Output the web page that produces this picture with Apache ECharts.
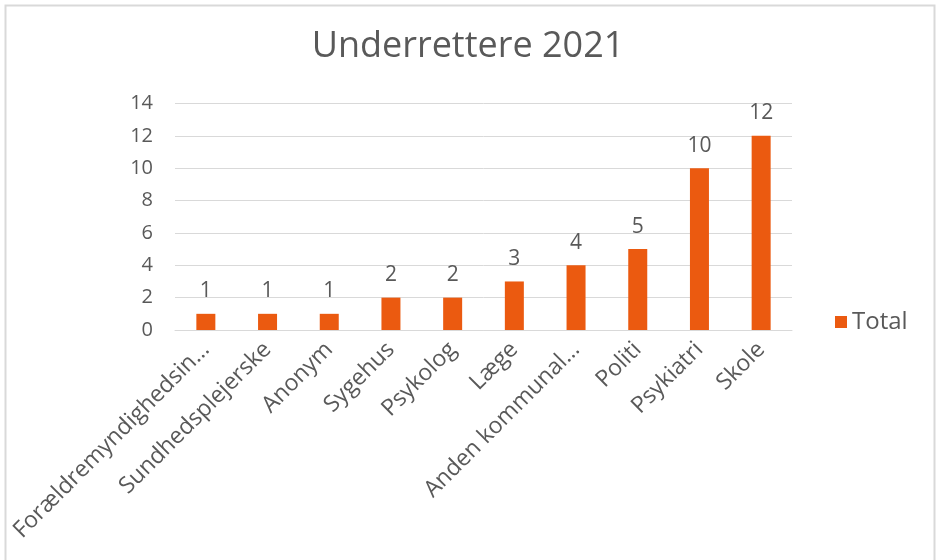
<!DOCTYPE html>
<html>
<head>
<meta charset="utf-8">
<style>
    html, body { margin: 0; padding: 0; background: #fff; }
    #chart { width: 936px; height: 560px; }
</style>
<script src="https://cdn.jsdelivr.net/npm/echarts@6/dist/echarts.min.js"></script>
</head>
<body>
<div id="chart"></div>
<script>
    // data
    const categories = ['Forældremyndighedsin…', 'Sundhedsplejerske', 'Anonym', 'Sygehus', 'Psykolog',
        'Læge', 'Anden kommunal…', 'Politi', 'Psykiatri', 'Skole'];
    const totals = [1, 1, 1, 2, 2, 3, 4, 5, 10, 12];

    const textColor = '#595959';
    const barColor = '#EB5A10';
    const font = '"Open Sans", Lato, sans-serif';

    let chart = echarts.init(document.getElementById('chart'));
    let option = {
        backgroundColor: '#fff',
        textStyle: { fontFamily: font },
        graphic: [{
            type: 'rect',
            shape: { x: 5.5, y: 5.5, width: 929, height: 560 },
            style: { fill: 'none', stroke: '#d9d9d9', lineWidth: 2 },
            silent: true
        }],
        title: {
            text: 'Underrettere 2021',
            left: 'center',
            top: 24,
            textStyle: { color: textColor, fontSize: 36, fontWeight: 'normal', fontFamily: font }
        },
        legend: {
            data: ['Total'],
            orient: 'vertical',
            left: 830,
            top: 305,
            itemWidth: 12,
            itemHeight: 12,
            itemGap: 6,
            icon: 'rect',
            textStyle: { color: textColor, fontSize: 24, fontFamily: font }
        },
        grid: { left: 175, right: 144, top: 103.5, bottom: 230, containLabel: false },
        xAxis: {
            type: 'category',
            data: categories,
            axisLine: { lineStyle: { color: '#d9d9d9', width: 1 } },
            axisTick: { show: false },
            axisLabel: {
                rotate: 45,
                interval: 0,
                color: textColor,
                fontSize: 23,
                fontFamily: font,
                margin: 16
            }
        },
        yAxis: {
            type: 'value',
            min: 0,
            max: 14,
            interval: 2,
            axisLine: { show: false },
            axisTick: { show: false },
            splitLine: { lineStyle: { color: '#d9d9d9', width: 1 } },
            axisLabel: { color: textColor, fontSize: 20, fontFamily: font, margin: 22 }
        },
        series: [{
            name: 'Total',
            type: 'bar',
            data: totals,
            barWidth: 19,
            itemStyle: { color: barColor },
            label: {
                show: true,
                position: 'top',
                distance: 12,
                color: textColor,
                fontSize: 21,
                fontFamily: font
            }
        }]
    };
    chart.setOption(option);
</script>
</body>
</html>
